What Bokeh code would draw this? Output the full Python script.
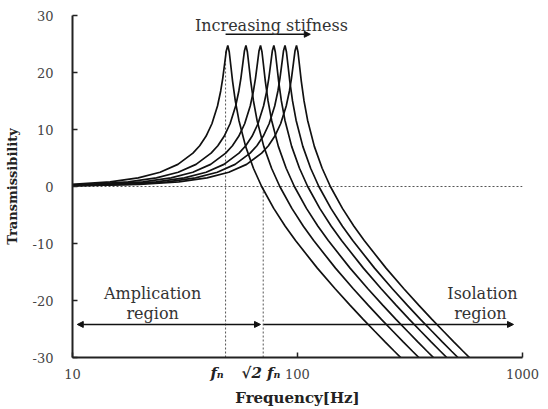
from bokeh.plotting import figure
from bokeh.models import Label, Arrow, NormalHead, FixedTicker, LogAxis
from bokeh.embed import file_html
from bokeh.resources import INLINE

# ---- data ----
# transmissibility [dB] at the sampled points of every curve (same shape, shifted)
trans_db = [0.09, 0.36, 0.82, 1.52, 2.50, 3.88, 5.85, 7.15, 8.81, 11.01, 14.12,
            16.76, 19.03, 21.78, 23.83, 24.75, 23.6, 21.4, 18.49, 15.02, 11.63,
            7.04, 3.20, 0.0, -3.84, -6.97, -9.49, -14.32, -17.93, -20.85, -23.30,
            -25.40, -27.25, -28.90, -30.39]

freq_c1 = [4.9, 9.8, 14.7, 19.6, 24.5, 29.4, 34.3, 36.75, 39.2, 41.65, 44.1,
           45.57, 46.55, 47.53, 48.27, 49.0, 49.74, 50.47, 51.45, 52.92, 54.88,
           58.8, 63.7, 69.29, 78.4, 88.2, 98.0, 122.5, 147.0, 171.5, 196.0,
           220.5, 245.0, 269.5, 294.0]
freq_c2 = [5.9, 11.8, 17.7, 23.6, 29.5, 35.4, 41.3, 44.25, 47.2, 50.15, 53.1,
           54.87, 56.05, 57.23, 58.12, 59.0, 59.89, 60.77, 61.95, 63.72, 66.08,
           70.8, 76.7, 83.43, 94.4, 106.2, 118.0, 147.5, 177.0, 206.5, 236.0,
           265.5, 295.0, 324.5, 354.0]
freq_c3 = [6.85, 13.7, 20.55, 27.4, 34.25, 41.1, 47.95, 51.38, 54.8, 58.23, 61.65,
           63.71, 65.08, 66.45, 67.47, 68.5, 69.53, 70.56, 71.93, 73.98, 76.72,
           82.2, 89.05, 96.86, 109.6, 123.3, 137.0, 171.25, 205.5, 239.75, 274.0,
           308.25, 342.5, 376.75, 411.0]
freq_c4 = [7.85, 15.7, 23.55, 31.4, 39.25, 47.1, 54.95, 58.88, 62.8, 66.73, 70.65,
           73.01, 74.58, 76.15, 77.32, 78.5, 79.68, 80.86, 82.43, 84.78, 87.92,
           94.2, 102.05, 111.0, 125.6, 141.3, 157.0, 196.25, 235.5, 274.75, 314.0,
           353.25, 392.5, 431.75, 471.0]
freq_c5 = [8.8, 17.6, 26.4, 35.2, 44.0, 52.8, 61.6, 66.0, 70.4, 74.8, 79.2,
           81.84, 83.6, 85.36, 86.68, 88.0, 89.32, 90.64, 92.4, 95.04, 98.56,
           105.6, 114.4, 124.43, 140.8, 158.4, 176.0, 220.0, 264.0, 308.0, 352.0,
           396.0, 440.0, 484.0, 528.0]
freq_c6 = [9.9, 19.8, 29.7, 39.6, 49.5, 59.4, 69.3, 74.25, 79.2, 84.15, 89.1,
           92.07, 94.05, 96.03, 97.52, 99.0, 100.49, 101.97, 103.95, 106.92, 110.88,
           118.8, 128.7, 139.99, 158.4, 178.2, 198.0, 247.5, 297.0, 346.5, 396.0,
           445.5, 495.0, 544.5, 594.0]
curves = [freq_c1, freq_c2, freq_c3, freq_c4, freq_c5, freq_c6]

fn_freq = 47.9          # natural frequency marker line
sqrt2_fn_freq = 70.4    # sqrt(2) * fn marker line
x_ticks = [10, 100, 1000]
x_tick_labels = ["10", "100", "1000"]
y_ticks = [-30, -20, -10, 0, 10, 20, 30]
y_tick_labels = ["-30", "-20", "-10", "0", "10", "20", "30"]
marker_label_pos = [43.9, 68.8]
marker_labels = ["f\u2099", "\u221a2 f\u2099"]

SERIF = "DejaVu Serif"
TXT = "#333333"

p = figure(width=548, height=409, x_axis_type="log", x_range=(10, 1000),
           y_range=(-30, 30), output_backend="svg", toolbar_location=None,
           min_border_left=72, min_border_right=26, min_border_top=15,
           min_border_bottom=52)
p.outline_line_color = None
p.grid.visible = False
p.background_fill_color = "white"
p.border_fill_color = "white"

for ax in (p.xaxis[0], p.yaxis[0]):
    ax.axis_line_color = "#222222"
    ax.axis_line_width = 2
    ax.major_tick_line_color = "#222222"
    ax.major_tick_line_width = 1.5
    ax.major_tick_in = 5
    ax.major_tick_out = 0
    ax.minor_tick_line_color = None
    ax.major_label_text_font = SERIF
    ax.major_label_text_font_size = "13px"
    ax.major_label_text_color = "#444444"

xa = p.xaxis[0]
xa.ticker = FixedTicker(ticks=x_ticks)
xa.major_label_overrides = dict(zip(x_ticks, x_tick_labels))
xa.major_label_standoff = 11

ya = p.yaxis[0]
ya.ticker = FixedTicker(ticks=y_ticks)
ya.major_label_overrides = dict(zip(y_ticks, y_tick_labels))
ya.major_label_standoff = 19
ya.axis_label = "Transmissibility"
ya.axis_label_text_font = SERIF
ya.axis_label_text_font_size = "13px"
ya.axis_label_text_font_style = "bold"
ya.axis_label_text_color = "#222222"
ya.axis_label_standoff = 10

# second bottom axis carrying the f_n markers and the axis title
ax2 = LogAxis(ticker=FixedTicker(ticks=marker_label_pos),
              major_label_overrides=dict(zip(marker_label_pos, marker_labels)))
ax2.axis_line_color = None
ax2.major_tick_line_color = None
ax2.minor_tick_line_color = None
ax2.major_tick_in = 0
ax2.major_tick_out = 0
ax2.major_label_standoff = -18
ax2.major_label_text_font = SERIF
ax2.major_label_text_font_size = "15px"
ax2.major_label_text_font_style = "bold italic"
ax2.major_label_text_color = "#222222"
ax2.axis_label = "Frequency[Hz]"
ax2.axis_label_text_font = SERIF
ax2.axis_label_text_font_size = "15px"
ax2.axis_label_text_font_style = "bold"
ax2.axis_label_text_color = "#222222"
ax2.axis_label_standoff = 4
p.add_layout(ax2, "below")

# reference lines
p.line([10, 1000], [0, 0], line_color="#555555", line_width=1, line_dash="2 2")
p.line([fn_freq, fn_freq], [-30, 24.0], line_color="#555555", line_width=1, line_dash="2 2")
p.line([sqrt2_fn_freq, sqrt2_fn_freq], [-30, 0], line_color="#555555", line_width=1, line_dash="2 2")

for fr in curves:
    p.line(fr, trans_db, line_color="#111111", line_width=1.7)

# arrows
def head():
    return NormalHead(size=6, fill_color="#111111", line_color="#111111")

p.add_layout(Arrow(x_start=47.9, y_start=26.7, x_end=114, y_end=26.7,
                   line_width=1.5, line_color="#111111", end=head()))
p.add_layout(Arrow(x_start=10.5, y_start=-24.2, x_end=68.5, y_end=-24.2,
                   line_width=1.5, line_color="#111111", start=head(), end=head()))
p.add_layout(Arrow(x_start=70.6, y_start=-24.2, x_end=912, y_end=-24.2,
                   line_width=1.5, line_color="#111111", end=head()))

def lab(x, y, text, size="16px", style="normal"):
    p.add_layout(Label(x=x, y=y, text=text, text_font=SERIF, text_font_size=size,
                       text_font_style=style, text_align="center",
                       text_baseline="alphabetic", text_color=TXT))

lab(76.6, 28.3, "Increasing stifness")
lab(22.7, -18.8, "Amplication")
lab(22.7, -22.3, "region")
lab(664, -18.8, "Isolation")
lab(650, -22.3, "region")

open("out.html", "w").write(file_html(p, INLINE))
